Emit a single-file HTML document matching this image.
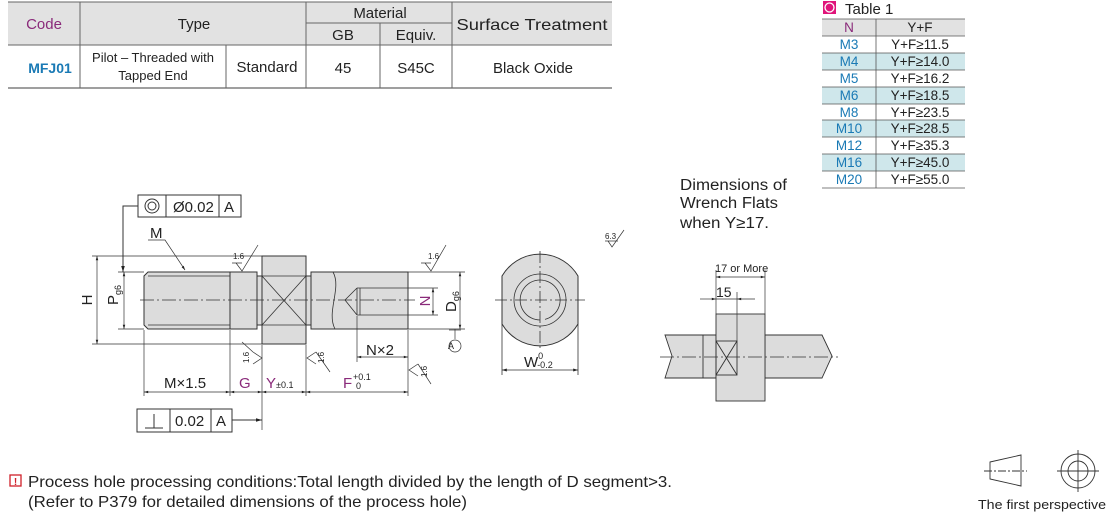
<!DOCTYPE html>
<html><head><meta charset="utf-8"><style>
body{margin:0;background:#fff;width:1110px;height:515px;overflow:hidden;font-family:"Liberation Sans",sans-serif}
svg text{font-family:"Liberation Sans",sans-serif}
</style></head><body>
<svg width="1110" height="515" viewBox="0 0 1110 515" xmlns="http://www.w3.org/2000/svg">
<defs>
<marker id="a" viewBox="0 0 10 10" refX="10" refY="5" markerWidth="8" markerHeight="6" orient="auto-start-reverse"><path d="M0,2L10,5L0,8z" fill="#222"/></marker>
</defs>
<!-- top table -->
<rect x="8" y="2" width="604" height="43" fill="#e2e2e2"/>
<g stroke="#666" stroke-width="1">
<line x1="8" y1="2" x2="612" y2="2"/><line x1="8" y1="45" x2="612" y2="45"/><line x1="8" y1="88" x2="612" y2="88" stroke-width="1.3"/>
<line x1="306" y1="23" x2="452" y2="23"/>
<line x1="80" y1="2" x2="80" y2="88"/><line x1="226" y1="45" x2="226" y2="88"/><line x1="306" y1="2" x2="306" y2="88"/><line x1="380" y1="23" x2="380" y2="88"/><line x1="452" y1="2" x2="452" y2="88"/>
</g>
<g font-size="15" fill="#222" text-anchor="middle">
<text x="44" y="29" fill="#8a2a7a">Code</text><text x="194" y="29">Type</text><text x="380" y="18">Material</text>
<text x="343" y="40">GB</text><text x="416" y="40">Equiv.</text><text x="532" y="30" font-size="16" textLength="151" lengthAdjust="spacingAndGlyphs">Surface Treatment</text>
<text x="50" y="73" fill="#1a7ab5" font-weight="bold" font-size="14">MFJ01</text>
<text x="153" y="62" font-size="13">Pilot – Threaded with</text><text x="153" y="80" font-size="13">Tapped End</text>
<text x="267" y="72" font-size="15">Standard</text>
<text x="343" y="73" font-size="15">45</text><text x="416" y="73" font-size="15">S45C</text><text x="533" y="73" font-size="15">Black Oxide</text>
</g>
<!-- Table 1 -->
<rect x="823" y="1" width="13" height="13" fill="#e0147a"/><circle cx="829.5" cy="7.5" r="4.5" fill="none" stroke="#fff" stroke-width="1.3"/>
<text x="845" y="14" font-size="15" fill="#222">Table 1</text>
<rect x="822" y="19" width="143" height="17" fill="#e2e2e2"/>
<g fill="#cfe7eb"><rect x="822" y="53" width="143" height="17"/><rect x="822" y="87" width="143" height="17"/><rect x="822" y="120" width="143" height="17"/><rect x="822" y="154" width="143" height="17"/></g>
<g stroke="#555" stroke-width="0.8">
<line x1="822" y1="19" x2="965" y2="19"/><line x1="822" y1="36" x2="965" y2="36"/><line x1="822" y1="53" x2="965" y2="53"/><line x1="822" y1="70" x2="965" y2="70"/><line x1="822" y1="87" x2="965" y2="87"/><line x1="822" y1="104" x2="965" y2="104"/><line x1="822" y1="120" x2="965" y2="120"/><line x1="822" y1="137" x2="965" y2="137"/><line x1="822" y1="154" x2="965" y2="154"/><line x1="822" y1="171" x2="965" y2="171"/><line x1="822" y1="188" x2="965" y2="188"/>
<line x1="876" y1="19" x2="876" y2="188"/></g>
<g font-size="13.5" text-anchor="middle">
<text x="849" y="32" fill="#8a2a7a">N</text><text x="920" y="32" fill="#222">Y+F</text>
<g fill="#1a7ab5"><text x="849" y="49">M3</text><text x="849" y="66">M4</text><text x="849" y="83">M5</text><text x="849" y="100">M6</text><text x="849" y="117">M8</text><text x="849" y="133">M10</text><text x="849" y="150">M12</text><text x="849" y="167">M16</text><text x="849" y="184">M20</text></g>
<g fill="#222"><text x="920" y="49">Y+F≥11.5</text><text x="920" y="66">Y+F≥14.0</text><text x="920" y="83">Y+F≥16.2</text><text x="920" y="100">Y+F≥18.5</text><text x="920" y="117">Y+F≥23.5</text><text x="920" y="133">Y+F≥28.5</text><text x="920" y="150">Y+F≥35.3</text><text x="920" y="167">Y+F≥45.0</text><text x="920" y="184">Y+F≥55.0</text></g>
</g>
<!-- main part -->
<g stroke="#333" stroke-width="1" fill="#dcdcdc">
<path d="M148,272H230V329H148L144,325V276Z"/>
<rect x="230" y="272" width="27" height="57"/>
<rect x="257" y="276" width="5" height="49"/>
<rect x="262" y="256" width="44" height="88"/>
<rect x="306" y="276" width="5" height="49"/>
<rect x="311" y="272" width="97" height="57"/>
</g>
<g stroke="#333" stroke-width="0.8" fill="none">
<line x1="148" y1="276" x2="230" y2="276"/><line x1="148" y1="325" x2="230" y2="325"/>
<line x1="262" y1="276" x2="306" y2="276"/><line x1="262" y1="325" x2="306" y2="325"/>
<line x1="262" y1="276" x2="306" y2="325"/><line x1="306" y1="276" x2="262" y2="325"/>
<path d="M333,272C342,288 326,312 335,329"/>
<path d="M357,288H408M357,315H408M357,288V315M357,288L345,300L357,315"/>
<line x1="360" y1="288" x2="360" y2="315"/>
</g>
<line x1="140" y1="300" x2="415" y2="300" stroke="#333" stroke-width="0.7" stroke-dasharray="14,3,2,3"/>
<!-- GDT -->
<g stroke="#333" fill="none" stroke-width="1">
<rect x="138" y="195" width="103" height="22"/><line x1="166" y1="195" x2="166" y2="217"/><line x1="219" y1="195" x2="219" y2="217"/>
<circle cx="152" cy="206" r="7"/><circle cx="152" cy="206" r="4"/>
<path d="M138,206H123V272" marker-end="url(#a)"/>
<rect x="137" y="409" width="95" height="23"/><line x1="170" y1="409" x2="170" y2="432"/><line x1="211" y1="409" x2="211" y2="432"/>
<path d="M145,428H163M154,428V414"/>
<line x1="232" y1="420" x2="262" y2="420" marker-end="url(#a)"/>
</g>
<g font-size="15" fill="#222"><text x="173" y="212">Ø0.02</text><text x="224" y="212">A</text><text x="175" y="426">0.02</text><text x="216" y="426">A</text></g>
<!-- dims -->
<g stroke="#333" stroke-width="0.7" fill="none">
<line x1="92" y1="256" x2="262" y2="256"/><line x1="92" y1="344" x2="262" y2="344"/>
<line x1="118" y1="272" x2="144" y2="272"/><line x1="118" y1="329" x2="144" y2="329"/>
<line x1="408" y1="272" x2="465" y2="272"/><line x1="408" y1="329" x2="465" y2="329"/>
<line x1="408" y1="288" x2="438" y2="288"/><line x1="408" y1="315" x2="438" y2="315"/>
<line x1="97" y1="256" x2="97" y2="344" marker-start="url(#a)" marker-end="url(#a)"/>
<line x1="124" y1="272" x2="124" y2="329" marker-start="url(#a)" marker-end="url(#a)"/>
<line x1="460" y1="272" x2="460" y2="329" marker-start="url(#a)" marker-end="url(#a)"/>
<line x1="433" y1="288" x2="433" y2="315" marker-start="url(#a)" marker-end="url(#a)"/>
<line x1="144" y1="330" x2="144" y2="396"/><line x1="230" y1="330" x2="230" y2="396"/><line x1="262" y1="345" x2="262" y2="430"/><line x1="306" y1="345" x2="306" y2="396"/><line x1="408" y1="330" x2="408" y2="396"/><line x1="357" y1="316" x2="357" y2="362"/>
<line x1="144" y1="392" x2="230" y2="392" marker-start="url(#a)" marker-end="url(#a)"/>
<line x1="230" y1="392" x2="262" y2="392" marker-start="url(#a)" marker-end="url(#a)"/>
<line x1="262" y1="392" x2="306" y2="392" marker-start="url(#a)" marker-end="url(#a)"/>
<line x1="306" y1="392" x2="408" y2="392" marker-start="url(#a)" marker-end="url(#a)"/>
<line x1="357" y1="357" x2="408" y2="357" marker-start="url(#a)" marker-end="url(#a)"/>
<path d="M148,240H165L185,270" marker-end="url(#a)"/>
<line x1="455" y1="329" x2="455" y2="339"/><line x1="449" y1="330" x2="461" y2="330"/><circle cx="455" cy="346" r="6"/>
<path d="M236,263L242,271L258,245M232,263H242"/>
<path d="M425,263L431,271L446,245M421,263H431"/>
<path d="M605,241H618M608,241L612,247L624,230"/>
<path d="M253,352L262,358L253,364M253,352L242,342"/>
<path d="M316,352L307,358L316,364M316,352L330,372"/>
<path d="M418,364L409,370L418,376M418,364L431,384"/>
</g>
<g font-size="8" fill="#222"><text x="233" y="259">1.6</text><text x="428" y="259">1.6</text><text x="605" y="239">6.3</text>
<text transform="translate(249,363) rotate(-90)">1.6</text><text transform="translate(324,363) rotate(-90)">1.6</text><text transform="translate(427,377) rotate(-90)">1.6</text></g>
<g font-size="15" fill="#222">
<text x="150" y="238">M</text>
<text transform="translate(92,300) rotate(-90)" text-anchor="middle">H</text>
<text transform="translate(118,305) rotate(-90)">P<tspan font-size="9" dy="3">g6</tspan></text>
<text transform="translate(456,312) rotate(-90)">D<tspan font-size="9" dy="3">g6</tspan></text>
<text transform="translate(430,301) rotate(-90)" text-anchor="middle" fill="#8a2a7a">N</text>
<text x="366" y="355">N×2</text>
<text x="164" y="388">M×1.5</text>
<text x="239" y="388" fill="#8a2a7a">G</text>
<text x="266" y="388" fill="#8a2a7a">Y<tspan font-size="9" fill="#222">±0.1</tspan></text>
<text x="343" y="388" fill="#8a2a7a">F</text>
</g>
<g font-size="9" fill="#222"><text x="353" y="380">+0.1</text><text x="356" y="389">0</text><text x="451" y="349" text-anchor="middle">A</text></g>
<!-- circle view -->
<path d="M502,276A44,44 0 0 1 578,276V324A44,44 0 0 1 502,324Z" fill="#dcdcdc" stroke="#333"/>
<g stroke="#333" fill="none" stroke-width="0.8">
<circle cx="540" cy="300" r="26"/>
<path d="M540,320A20,20 0 1 1 545,319.4"/>
<line x1="495" y1="300" x2="585" y2="300" stroke-dasharray="12,3,2,3"/><line x1="540" y1="251" x2="540" y2="349" stroke-dasharray="12,3,2,3"/>
<line x1="502" y1="324" x2="502" y2="375"/><line x1="578" y1="324" x2="578" y2="375"/>
<line x1="502" y1="370" x2="578" y2="370" marker-start="url(#a)" marker-end="url(#a)"/>
</g>
<text x="524" y="367" font-size="15" fill="#222">W<tspan font-size="9" dy="-8">0</tspan><tspan font-size="9" dx="-6" dy="9">-0.2</tspan></text>
<!-- wrench -->
<g font-size="15.5" fill="#222"><text x="680" y="190" textLength="107" lengthAdjust="spacingAndGlyphs">Dimensions of</text><text x="680" y="208" textLength="98" lengthAdjust="spacingAndGlyphs">Wrench Flats</text><text x="680" y="228" textLength="89" lengthAdjust="spacingAndGlyphs">when Y≥17.</text></g>
<g stroke="#333" stroke-width="0.9" fill="#dcdcdc">
<path d="M665,335H716V378H665L672,356Z"/>
<line x1="703" y1="335" x2="703" y2="378"/>
<path d="M765,335H822L832,356L822,378H765Z"/>
<rect x="716" y="314" width="49" height="87"/>
<rect x="716" y="341" width="21" height="34" fill="none"/>
<path d="M716,341L737,375M737,341L716,375" fill="none"/>
</g>
<g stroke="#333" stroke-width="0.7" fill="none">
<line x1="660" y1="357" x2="838" y2="357" stroke-dasharray="14,3,2,3"/>
<line x1="716" y1="270" x2="716" y2="314"/><line x1="765" y1="270" x2="765" y2="314"/><line x1="737" y1="292" x2="737" y2="341"/>
<line x1="716" y1="277" x2="765" y2="277" marker-start="url(#a)" marker-end="url(#a)"/>
<line x1="700" y1="299" x2="716" y2="299" marker-end="url(#a)"/><line x1="755" y1="299" x2="737" y2="299" marker-end="url(#a)"/><line x1="716" y1="299" x2="737" y2="299"/>
</g>
<text x="715" y="272" font-size="11" fill="#222">17 or More</text>
<text x="716" y="297" font-size="14" fill="#222">15</text>
<!-- note -->
<rect x="10" y="475" width="11" height="11" fill="none" stroke="#d0202a" stroke-width="1.3"/>
<text x="15.5" y="485" font-size="10" fill="#d0202a" text-anchor="middle" font-weight="bold">!</text>
<g font-size="16" fill="#222"><text x="28" y="487" textLength="644" lengthAdjust="spacingAndGlyphs">Process hole processing conditions:Total length divided by the length of D segment&gt;3.</text><text x="28" y="507" textLength="439" lengthAdjust="spacingAndGlyphs">(Refer to P379 for detailed dimensions of the process hole)</text></g>
<!-- first perspective -->
<g stroke="#333" stroke-width="0.9" fill="none">
<path d="M990,462L1021,455V486L990,479Z"/><line x1="984" y1="471" x2="1027" y2="471" stroke-dasharray="8,2,2,2"/>
<circle cx="1078" cy="471" r="17"/><circle cx="1078" cy="471" r="10"/>
<line x1="1057" y1="471" x2="1099" y2="471"/><line x1="1078" y1="450" x2="1078" y2="492"/>
</g>
<text x="978" y="509" font-size="13" fill="#222" textLength="128" lengthAdjust="spacingAndGlyphs">The first perspective</text>
</svg>
</body></html>
